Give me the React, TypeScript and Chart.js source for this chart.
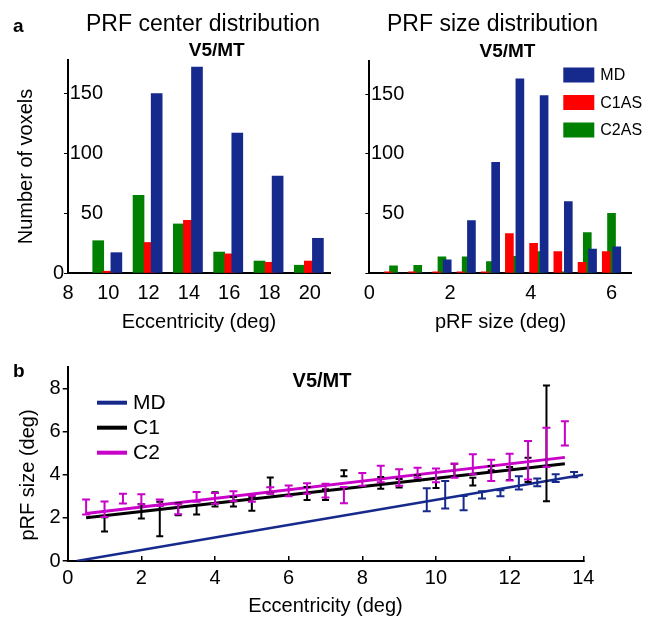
import React, { useEffect, useRef } from 'react';
import { Chart, registerables } from 'chart.js';

Chart.register(...registerables);

const FONT = '"Liberation Sans", Arial, Helvetica, sans-serif';
Chart.defaults.font.family = FONT;
Chart.defaults.color = '#000';

const NAVY = '#16298c';
const RED = '#ff0000';
const GREEN = '#008000';
const MAGENTA = '#c800c8';
const BLACK = '#000000';

// ---------- Panel a (left): pRF center distribution, V5/MT ----------
const centerXMD = [10.4, 12.4, 14.4, 16.4, 18.4, 20.4];
const centerXC1 = [10.0, 12.05, 14.0, 16.05, 18.05, 20.0];
const centerXC2 = [9.5, 11.5, 13.5, 15.5, 17.5, 19.5];
const centerMD = [17, 150, 172, 117, 81, 29];
const centerC1 = [1.5, 25.5, 44, 16, 9, 10];
const centerC2 = [27, 65, 41, 17.5, 10, 6.5];

// ---------- Panel a (right): pRF size distribution, V5/MT ----------
const sizeXMD = [0.73, 1.33, 1.93, 2.53, 3.13, 3.73, 4.33, 4.93, 5.53, 6.13];
const sizeXC1 = [0.47, 1.07, 1.67, 2.27, 2.87, 3.47, 4.07, 4.67, 5.27, 5.87];
const sizeXC2 = [0.6, 1.2, 1.8, 2.4, 3.0, 3.6, 4.2, 4.8, 5.4, 6.0];
const sizeMD = [0, 0, 11, 44, 93, 163, 149, 60, 20, 22];
const sizeC1 = [1, 1, 1, 1, 1, 33, 25, 18, 9, 18];
const sizeC2 = [6, 6.5, 13.5, 13.5, 9.5, 14, 18, 1, 34, 50];

const histLabels = ['MD', 'C1AS', 'C2AS'];

// ---------- Panel b: pRF size vs eccentricity ----------
const fitMDx = [0.25, 14];
const fitMDy = [0, 4.0];
const fitC1x = [0.5, 13.5];
const fitC1y = [2.0, 4.5];
const fitC2x = [0.5, 13.5];
const fitC2y = [2.2, 4.8];

const errMDx = [9.75, 10.25, 10.75, 11.25, 11.75, 12.25, 12.75, 13.25, 13.75];
const errMDy = [2.84, 3.07, 2.68, 3.06, 3.14, 3.62, 3.64, 3.84, 4.0];
const errMDe = [0.53, 0.64, 0.33, 0.17, 0.14, 0.31, 0.18, 0.18, 0.12];

const errC1x = [1, 2, 2.5, 3, 3.5, 4, 4.5, 5, 5.5, 6.5, 7, 7.5, 8.5, 9, 9.5, 10, 10.5, 11, 11.5, 12, 12.5, 13];
const errC1y = [1.7, 2.3, 1.95, 2.4, 2.37, 2.85, 2.75, 2.65, 3.5, 3.13, 3.07, 4.06, 3.62, 3.6, 3.85, 3.6, 4.2, 3.68, 4.3, 4.05, 4.22, 5.45];
const errC1e = [0.33, 0.33, 0.8, 0.28, 0.22, 0.33, 0.22, 0.32, 0.37, 0.3, 0.25, 0.14, 0.27, 0.2, 0.12, 0.22, 0.3, 0.18, 0.1, 0.3, 0.56, 2.68];

const errC2x = [0.5, 1, 1.5, 2, 2.5, 3, 3.5, 4, 4.5, 5, 5.5, 6, 6.5, 7, 7.5, 8, 8.5, 9, 9.5, 10, 10.5, 11, 11.5, 12, 12.5, 13, 13.5];
const errC2y = [2.5, 2.4, 2.89, 2.86, 2.7, 2.4, 2.97, 2.9, 3.0, 2.88, 3.27, 3.25, 3.36, 3.26, 3.05, 3.78, 4.03, 3.87, 4.09, 3.97, 4.18, 4.48, 4.2, 4.35, 4.67, 5.26, 5.91];
const errC2e = [0.35, 0.36, 0.23, 0.23, 0.15, 0.23, 0.23, 0.25, 0.23, 0.14, 0.15, 0.25, 0.24, 0.32, 0.38, 0.3, 0.38, 0.38, 0.23, 0.32, 0.32, 0.46, 0.49, 0.62, 0.89, 0.91, 0.56];

const lineLabels = ['MD', 'C1', 'C2'];

const pts = (xs: number[], ys: number[]) => xs.map((x, i) => ({ x, y: ys[i] }));

// ---------- plugins ----------
const boxLegend = {
  id: 'boxLegend',
  afterDraw(chart: any, _a: any, o: any) {
    if (!o || !o.show) return;
    const { ctx, chartArea } = chart;
    ctx.save();
    ctx.font = `${o.size}px ${FONT}`;
    ctx.textBaseline = 'middle';
    ctx.textAlign = 'left';
    chart.data.datasets.forEach((d: any, i: number) => {
      const x = chartArea.left + o.left;
      const y = chartArea.top + o.top + i * o.spacing;
      ctx.fillStyle = d.backgroundColor;
      ctx.fillRect(x, y - o.boxH / 2, o.boxW, o.boxH);
      ctx.fillStyle = '#000';
      ctx.fillText(d.label, x + o.boxW + o.gap, y + 1);
    });
    ctx.restore();
  },
};

const lineLegend = {
  id: 'lineLegend',
  afterDraw(chart: any, _a: any, o: any) {
    if (!o || !o.show) return;
    const { ctx, chartArea } = chart;
    ctx.save();
    ctx.font = `${o.size}px ${FONT}`;
    ctx.textBaseline = 'middle';
    ctx.textAlign = 'left';
    const items = chart.data.datasets.filter((d: any) => d.inLegend);
    items.forEach((d: any, i: number) => {
      const x = chartArea.left + o.left;
      const y = chartArea.top + o.top + i * o.spacing;
      ctx.strokeStyle = d.borderColor;
      ctx.lineWidth = o.lineWidth;
      ctx.beginPath();
      ctx.moveTo(x, y);
      ctx.lineTo(x + o.sample, y);
      ctx.stroke();
      ctx.fillStyle = '#000';
      ctx.fillText(d.label, x + o.sample + o.gap, y + 1);
    });
    ctx.restore();
  },
};

const errorBars = {
  id: 'errorBars',
  afterDatasetsDraw(chart: any) {
    const { ctx } = chart;
    const sx = chart.scales.x;
    const sy = chart.scales.y;
    ctx.save();
    chart.data.datasets.forEach((d: any) => {
      if (!d.errors) return;
      ctx.strokeStyle = d.errorColor;
      ctx.lineWidth = d.errorWidth;
      const cap = d.capHalf;
      d.data.forEach((p: any, i: number) => {
        const e = d.errors[i];
        const px = sx.getPixelForValue(p.x);
        const top = sy.getPixelForValue(p.y + e);
        const bot = sy.getPixelForValue(p.y - e);
        ctx.beginPath();
        ctx.moveTo(px, top);
        ctx.lineTo(px, bot);
        ctx.moveTo(px - cap, top);
        ctx.lineTo(px + cap, top);
        ctx.moveTo(px - cap, bot);
        ctx.lineTo(px + cap, bot);
        ctx.stroke();
      });
    });
    ctx.restore();
  },
};

// ---------- configs ----------
const AX_BORDER = { display: true, color: '#000', width: 2 };

function histConfig(p: any) {
  const sets = [
    { label: histLabels[0], data: pts(p.xMD, p.MD), backgroundColor: NAVY },
    { label: histLabels[1], data: pts(p.xC1, p.C1), backgroundColor: RED },
    { label: histLabels[2], data: pts(p.xC2, p.C2), backgroundColor: GREEN },
  ].map((d) => ({ ...d, barThickness: p.barW, grouped: false, borderWidth: 0 }));
  return {
    type: 'bar',
    data: { datasets: sets },
    plugins: [boxLegend],
    options: {
      responsive: false,
      animation: false,
      events: [],
      layout: { padding: { left: 0, top: p.padTop, right: p.padRight, bottom: 0 } },
      plugins: {
        legend: { display: false },
        tooltip: { enabled: false },
        boxLegend: p.legend,
      },
      scales: {
        x: {
          type: 'linear',
          offset: false,
          min: p.xMin,
          max: p.xMax,
          afterFit: (s: any) => { s.height = 67; },
          grid: { display: false, drawTicks: false },
          border: AX_BORDER,
          ticks: { stepSize: 2, includeBounds: false, padding: 8, font: { size: 20 }, color: '#000', maxRotation: 0, autoSkip: false },
          title: { display: true, text: p.xTitle, font: { size: 20 }, color: '#000', padding: { top: 0, bottom: 6 } },
        },
        y: {
          min: 0,
          max: 178,
          afterFit: (s: any) => { s.width = p.yWidth; },
          grid: { display: true, drawOnChartArea: false, drawTicks: true, tickLength: 4, color: '#000', lineWidth: 1 },
          border: AX_BORDER,
          ticks: {
            stepSize: 50,
            includeBounds: false,
            mirror: true,
            crossAlign: 'far',
            padding: p.yPad,
            font: { size: 20 },
            color: '#000',
            callback: p.yLabel,
          },
          title: p.yTitle
            ? { display: true, text: p.yTitle, font: { size: 20 }, color: '#000', padding: { top: 14, bottom: 0 } }
            : { display: false },
        },
      },
    },
  };
}

const leftConfig = () =>
  histConfig({
    xMD: centerXMD, xC1: centerXC1, xC2: centerXC2,
    MD: centerMD, C1: centerC1, C2: centerC2,
    barW: 11, padTop: 60, padRight: 10, yWidth: 68, yPad: -15,
    xMin: 8, xMax: 21, xTitle: 'Eccentricity (deg)', yTitle: 'Number of voxels',
    yLabel: (v: number) => (v === 0 ? '0       ' : String(v)),
    legend: { show: false },
  });

const rightConfig = () =>
  histConfig({
    xMD: sizeXMD, xC1: sizeXC1, xC2: sizeXC2,
    MD: sizeMD, C1: sizeC1, C2: sizeC2,
    barW: 8, padTop: 61, padRight: 24.3, yWidth: 29.3, yPad: 1.6,
    xMin: 0, xMax: 6.5, xTitle: 'pRF size (deg)', yTitle: '',
    yLabel: (v: number) => (v === 0 ? '' : String(v)),
    legend: { show: true, left: 194, top: 14, spacing: 27.5, boxW: 31, boxH: 15, gap: 6, size: 16 },
  });

const bottomConfig = () => {
  const fit = (label: string, xs: number[], ys: number[], color: string, w: number) => ({
    label, data: pts(xs, ys), borderColor: color, backgroundColor: color, borderWidth: w,
    showLine: true, pointRadius: 0, inLegend: true,
  });
  const err = (xs: number[], ys: number[], es: number[], color: string, cap: number) => ({
    label: '', data: pts(xs, ys), errors: es, errorColor: color, errorWidth: 2, capHalf: cap,
    showLine: false, pointRadius: 0, borderColor: color,
  });
  return {
    type: 'scatter',
    data: {
      datasets: [
        fit(lineLabels[0], fitMDx, fitMDy, NAVY, 2.5),
        fit(lineLabels[1], fitC1x, fitC1y, BLACK, 3),
        fit(lineLabels[2], fitC2x, fitC2y, MAGENTA, 3),
        err(errMDx, errMDy, errMDe, NAVY, 4),
        err(errC1x, errC1y, errC1e, BLACK, 3.5),
        err(errC2x, errC2y, errC2e, MAGENTA, 4),
      ],
    },
    plugins: [errorBars, lineLegend],
    options: {
      responsive: false,
      animation: false,
      events: [],
      layout: { padding: { left: 0, top: 26.7, right: 72.7, bottom: 0 } },
      plugins: {
        legend: { display: false },
        tooltip: { enabled: false },
        lineLegend: { show: true, left: 29.3, top: 36, spacing: 25, sample: 30, gap: 6, size: 21, lineWidth: 4 },
      },
      scales: {
        x: {
          type: 'linear',
          min: 0,
          max: 14,
          afterFit: (s: any) => { s.height = 61; },
          grid: { display: true, drawOnChartArea: false, drawTicks: true, tickLength: -5, color: '#000', lineWidth: 1.5 },
          border: AX_BORDER,
          ticks: { stepSize: 2, padding: 10, font: { size: 20 }, color: '#000', maxRotation: 0, autoSkip: false },
          title: { display: true, text: 'Eccentricity (deg)', font: { size: 20 }, color: '#000', padding: { top: 0, bottom: 4 } },
        },
        y: {
          min: 0,
          max: 9,
          afterFit: (s: any) => { s.width = 67.7; },
          grid: { display: true, drawOnChartArea: false, drawTicks: true, tickLength: 5, color: '#000', lineWidth: 1.5 },
          border: AX_BORDER,
          ticks: { stepSize: 2, includeBounds: false, padding: 2, font: { size: 20 }, color: '#000' },
          title: { display: true, text: 'pRF size (deg)    ', font: { size: 20 }, color: '#000', padding: { top: 16, bottom: 0 } },
        },
      },
    },
  };
};

function ChartBox({ x, y, w, h, make }: { x: number; y: number; w: number; h: number; make: () => any }) {
  const ref = useRef<HTMLCanvasElement | null>(null);
  useEffect(() => {
    if (!ref.current) return;
    const chart = new Chart(ref.current, make());
    return () => chart.destroy();
  }, []);
  return (
    <canvas
      ref={ref}
      width={w}
      height={h}
      style={{ position: 'absolute', left: x, top: y, width: w, height: h }}
    />
  );
}

function Txt({ x, base, size, bold, center, children }: any) {
  const top = base - 0.8465 * size;
  const style: any = {
    position: 'absolute',
    top,
    fontFamily: FONT,
    fontSize: size,
    lineHeight: `${size}px`,
    fontWeight: bold ? 'bold' : 'normal',
    whiteSpace: 'nowrap',
    color: '#000',
  };
  if (center) {
    style.left = x - 300;
    style.width = 600;
    style.textAlign = 'center';
  } else {
    style.left = x;
  }
  return <div style={style}>{children}</div>;
}

export default function App() {
  return (
    <div style={{ position: 'fixed', left: 0, top: 0, width: 656, height: 622, background: '#fff', overflow: 'hidden' }}>
      <ChartBox x={0} y={0} w={340} h={340} make={leftConfig} />
      <ChartBox x={340} y={0} w={316} h={340} make={rightConfig} />
      <ChartBox x={0} y={340} w={656} h={282} make={bottomConfig} />
      <Txt x={13} base={32} size={19} bold>a</Txt>
      <Txt x={203} base={31} size={23} center>PRF center distribution</Txt>
      <Txt x={216.7} base={56.5} size={19} bold center>V5/MT</Txt>
      <Txt x={492.5} base={31} size={23} center>PRF size distribution</Txt>
      <Txt x={507.5} base={57} size={19} bold center>V5/MT</Txt>
      <Txt x={13} base={377} size={19} bold>b</Txt>
      <Txt x={322} base={386.5} size={20} bold center>V5/MT</Txt>
    </div>
  );
}
